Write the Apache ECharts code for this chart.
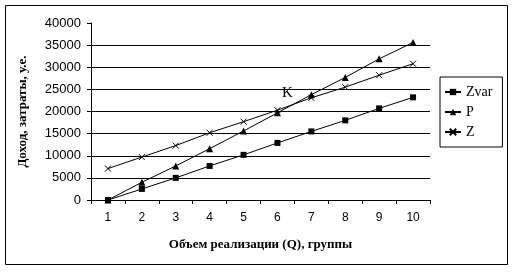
<!DOCTYPE html>
<html>
<head>
<meta charset="utf-8">
<script src="https://cdn.jsdelivr.net/npm/echarts@6/dist/echarts.min.js"></script>
<style>html,body{margin:0;padding:0;background:#fff}#c{width:512px;height:272px}</style>
</head>
<body>
<div id="c"></div>
<script>
const categories = ['1','2','3','4','5','6','7','8','9','10'];
const zvar = [0, 2500, 5000, 7700, 10200, 12900, 15500, 18000, 20700, 23200];
const pRev = [0, 4000, 7700, 11600, 15600, 19700, 23800, 27700, 31900, 35600];
const zTot = [7100, 9700, 12300, 15200, 17700, 20300, 23100, 25500, 28200, 30800];
const seriesNames = ['Zvar', 'P', 'Z'];
const xTitle = 'Объем реализации (Q), группы';
const yTitle = 'Доход, затраты, у.е.';
const pointLabel = 'K';

const chart = echarts.init(document.getElementById('c'), null, {renderer: 'canvas'});
const serif = '"Liberation Serif", "Times New Roman", serif';
const sans = '"Liberation Sans", Arial, sans-serif';
const crossPath = 'path://M0,0L10,10M10,0L0,10';
function mk(name, data, symbol, size, extra) {
  return Object.assign({
    name: name, type: 'line', data: data, symbol: symbol, symbolSize: size,
    showAllSymbol: true, animation: false,
    lineStyle: {color: '#000', width: 1},
    itemStyle: {color: '#000', borderColor: '#000', borderWidth: symbol === crossPath ? 1 : 0}
  }, extra || {});
}
chart.setOption({
  backgroundColor: '#fff',
  animation: false,
  grid: {left: 91, right: 82, top: 23, bottom: 72},
  legend: {
    orient: 'vertical', left: 440, top: 77, width: 64,
    padding: [8, 10, 8, 4], itemGap: 6, itemWidth: 16, itemHeight: 8,
    borderColor: '#000', borderWidth: 1, backgroundColor: '#fff',
    textStyle: {fontFamily: serif, fontSize: 14, color: '#000'},
    data: seriesNames
  },
  xAxis: {
    type: 'category', data: categories, boundaryGap: true,
    name: xTitle, nameLocation: 'middle', nameGap: 38,
    nameTextStyle: {fontFamily: serif, fontSize: 13, fontWeight: 'bold', color: '#000'},
    axisLine: {lineStyle: {color: '#000', width: 1}},
    axisTick: {show: true, length: 4, lineStyle: {color: '#000'}},
    axisLabel: {fontFamily: sans, fontSize: 12, color: '#000', margin: 12},
    splitLine: {show: false}
  },
  yAxis: {
    type: 'value', min: 0, max: 40000, interval: 5000,
    name: yTitle, nameLocation: 'middle', nameGap: 62,
    nameTextStyle: {fontFamily: serif, fontSize: 13, fontWeight: 'bold', color: '#000'},
    axisLine: {show: true, lineStyle: {color: '#000', width: 1}},
    axisTick: {show: true, length: 4, lineStyle: {color: '#000'}},
    axisLabel: {fontFamily: sans, fontSize: 13, color: '#000', margin: 10, formatter: function (v) { return String(v); }},
    splitLine: {show: true, showMaxLine: false, lineStyle: {color: '#000', width: 1}}
  },
  graphic: [{
    type: 'rect', shape: {x: 5.5, y: 5.5, width: 502, height: 259},
    style: {fill: 'none', stroke: '#000', lineWidth: 1}, silent: true, z: -1
  }],
  series: [
    mk(seriesNames[0], zvar, 'rect', 6),
    mk(seriesNames[1], pRev, 'triangle', 7, {
      markPoint: {
        symbol: 'circle', symbolSize: 1,
        itemStyle: {color: 'rgba(0,0,0,0)', borderWidth: 0},
        data: [{coord: ['6', 24200], value: pointLabel}],
        label: {show: true, position: 'inside', formatter: pointLabel, fontFamily: serif, fontSize: 15, color: '#000', offset: [10, 0]}
      }
    }),
    mk(seriesNames[2], zTot, crossPath, 6)
  ]
});
</script>
</body>
</html>
